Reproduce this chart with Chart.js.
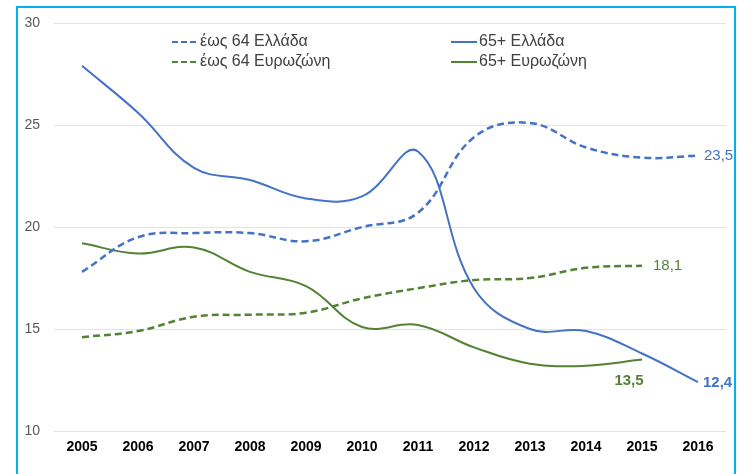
<!DOCTYPE html>
<html>
<head>
<meta charset="utf-8">
<script src="https://cdn.jsdelivr.net/npm/chart.js@4/dist/chart.umd.min.js"></script>
<style>
  html, body { margin: 0; padding: 0; background: #fff; }
  #wrap { position: relative; width: 742px; height: 474px; overflow: hidden; }
  #frame {
    position: absolute; left: 16px; top: 6px; width: 716px; height: 480px;
    border: 2.5px solid #00b0f0;
  }
  canvas { position: absolute; left: 0; top: 0; }
</style>
</head>
<body>
<div id="wrap">
  <div id="frame"></div>
  <canvas id="chart" width="742" height="474"></canvas>
</div>
<script>
// Έτη και σειρές (τιμές από το γράφημα)
const years = ['2005', '2006', '2007', '2008', '2009', '2010', '2011', '2012', '2013', '2014', '2015', '2016'];
const upTo64Greece = [17.8, 19.5, 19.7, 19.7, 19.3, 20.0, 20.7, 24.4, 25.1, 23.9, 23.4, 23.5];
const over65Greece = [27.9, 25.6, 22.9, 22.3, 21.4, 21.5, 23.7, 17.0, 15.0, 14.9, 13.8, 12.4];
const upTo64Euro = [14.6, 14.9, 15.6, 15.7, 15.8, 16.5, 17.0, 17.4, 17.5, 18.0, 18.1, null];
const over65Euro = [19.2, 18.7, 19.0, 17.8, 17.1, 15.1, 15.2, 14.1, 13.3, 13.2, 13.5, null];
const yTicks = [10, 15, 20, 25, 30];

const blue = '#4472c4';
const green = '#548235';
const font = 'Arial, "Liberation Sans", sans-serif';

// Υπόμνημα σε δύο στήλες, μέσα στην περιοχή του γραφήματος
const legendPlugin = {
    id: 'twoColLegend',
    afterDraw(chart) {
        const ctx = chart.ctx;
        const items = [
            { ds: 0, x: 172, y: 42 },
            { ds: 1, x: 451, y: 42 },
            { ds: 2, x: 172, y: 62 },
            { ds: 3, x: 451, y: 62 }
        ];
        ctx.save();
        ctx.font = '16px ' + font;
        ctx.textBaseline = 'middle';
        items.forEach(function(it) {
            const ds = chart.data.datasets[it.ds];
            ctx.strokeStyle = ds.borderColor;
            ctx.lineWidth = 2;
            ctx.setLineDash(ds.borderDash ? [6, 3] : []);
            ctx.beginPath();
            ctx.moveTo(it.x, it.y);
            ctx.lineTo(it.x + 26, it.y);
            ctx.stroke();
            ctx.setLineDash([]);
            ctx.fillStyle = '#404040';
            ctx.fillText(ds.label, it.x + 28, it.y);
        });
        ctx.restore();
    }
};

// Ετικέτες τιμών στα τελευταία σημεία
const endLabels = {
    id: 'endLabels',
    afterDatasetsDraw(chart) {
        const ctx = chart.ctx;
        const labels = [
            { ds: 0, idx: 11, dx: 6, dy: 0, align: 'left', bold: false },
            { ds: 2, idx: 10, dx: 11, dy: 0, align: 'left', bold: false },
            { ds: 1, idx: 11, dx: 5, dy: 1, align: 'left', bold: true },
            { ds: 3, idx: 10, dx: -13, dy: 21, align: 'center', bold: true }
        ];
        ctx.save();
        ctx.textBaseline = 'middle';
        labels.forEach(function(l) {
            const ds = chart.data.datasets[l.ds];
            const pt = chart.getDatasetMeta(l.ds).data[l.idx];
            const txt = ds.data[l.idx].toFixed(1).replace('.', ',');
            ctx.font = (l.bold ? 'bold ' : '') + '15px ' + font;
            ctx.fillStyle = ds.borderColor;
            ctx.textAlign = l.align;
            ctx.fillText(txt, pt.x + l.dx, pt.y + l.dy);
        });
        ctx.restore();
    }
};

const ctx = document.getElementById('chart').getContext('2d');
new Chart(ctx, {
    type: 'line',
    data: {
        labels: years,
        datasets: [
            {
                label: 'έως 64 Ελλάδα',
                data: upTo64Greece,
                borderColor: blue,
                borderWidth: 2.5,
                borderDash: [7, 4]
            },
            {
                label: '65+ Ελλάδα',
                data: over65Greece,
                borderColor: blue,
                borderWidth: 2
            },
            {
                label: 'έως 64 Ευρωζώνη',
                data: upTo64Euro,
                borderColor: green,
                borderWidth: 2.5,
                borderDash: [7, 4]
            },
            {
                label: '65+ Ευρωζώνη',
                data: over65Euro,
                borderColor: green,
                borderWidth: 2
            }
        ]
    },
    options: {
        responsive: false,
        animation: false,
        layout: { padding: { left: 0, right: 16, top: 23, bottom: 0 } },
        elements: {
            point: { radius: 0 },
            line: { tension: 0.4, fill: false }
        },
        plugins: {
            legend: { display: false },
            tooltip: { enabled: false }
        },
        scales: {
            x: {
                offset: true,
                grid: { display: false, drawTicks: false },
                border: { display: false },
                ticks: {
                    padding: 8,
                    color: '#000',
                    font: { family: font, size: 14, weight: 'bold' }
                },
                afterFit: function(scale) { scale.height = 43; }
            },
            y: {
                min: 10,
                max: 30,
                afterBuildTicks: function(scale) {
                    scale.ticks = yTicks.map(function(v) { return { value: v }; });
                },
                grid: { color: '#e3e3e3', lineWidth: 1, drawTicks: false },
                border: { display: false },
                ticks: {
                    padding: 14,
                    color: '#595959',
                    font: { family: font, size: 14 }
                },
                afterFit: function(scale) { scale.width = 54; }
            }
        }
    },
    plugins: [legendPlugin, endLabels]
});
</script>
</body>
</html>
